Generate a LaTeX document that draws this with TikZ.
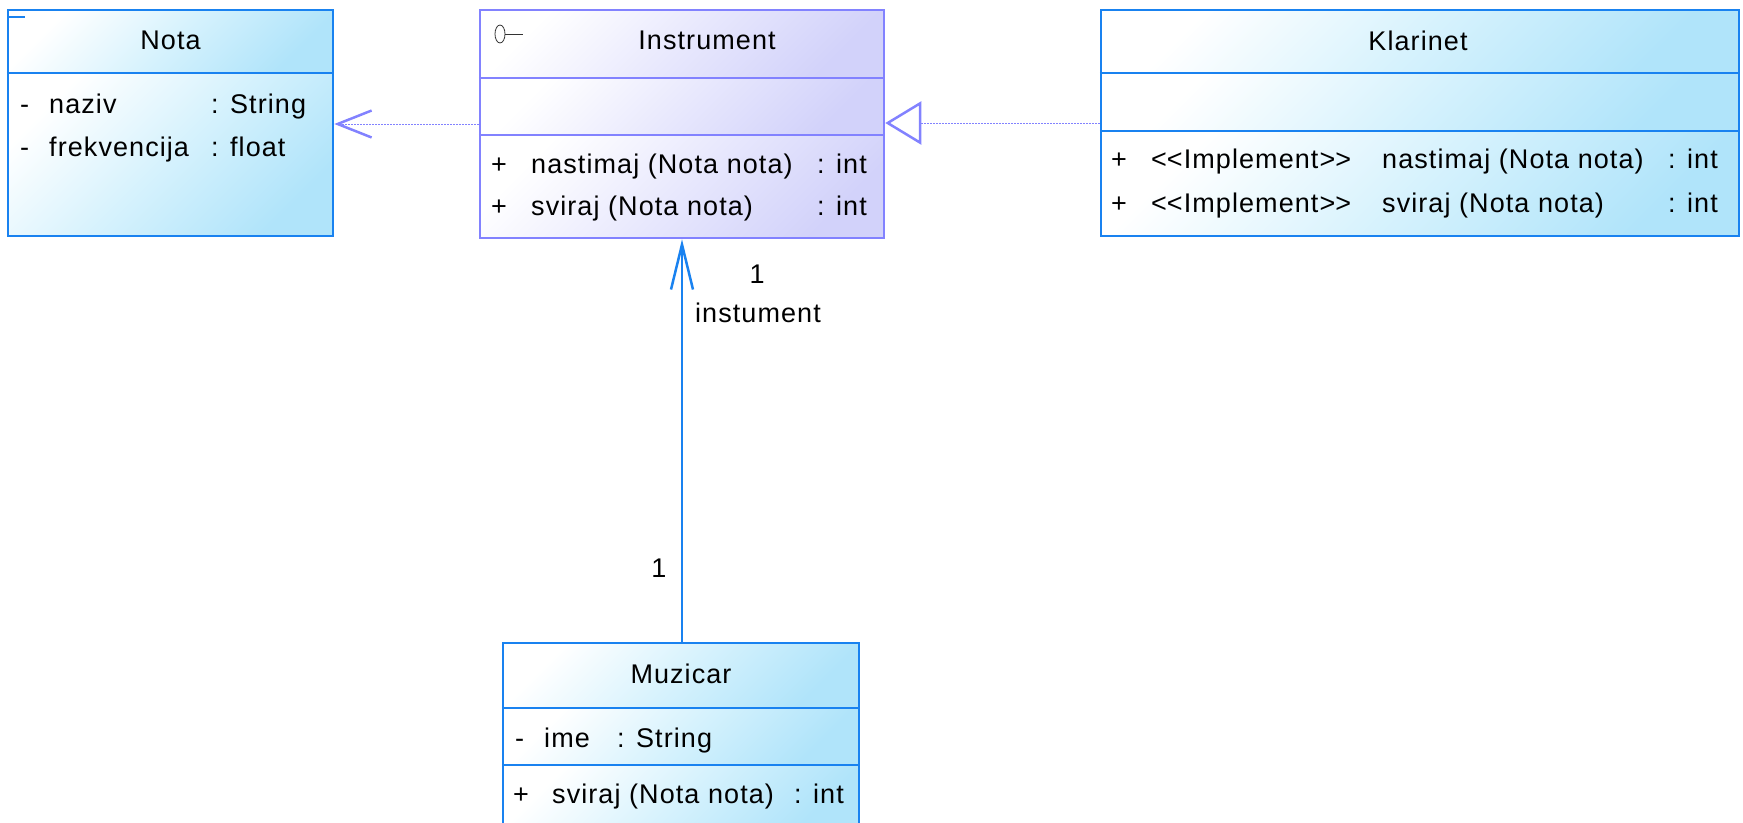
\documentclass[tikz,border=0pt]{standalone}
\usepackage{fontspec}
\setmainfont{Liberation Sans}[LetterSpace=4]
\usetikzlibrary{arrows.meta}

\definecolor{classblue}{RGB}{25,130,240}
\definecolor{cyanend}{RGB}{176,228,250}
\definecolor{cyanmid}{RGB}{214,242,253}
\definecolor{ifaceline}{RGB}{130,130,255}
\definecolor{lavend}{RGB}{210,210,250}
\definecolor{lavmid}{RGB}{232,232,253}

% guillemet-free stereotype brackets
\newcommand\stereo[1]{<\kern0pt<#1>\kern0pt>}

\begin{document}
\begin{tikzpicture}[x=1pt,y=-1pt,
  txt/.style={font=\fontsize{27}{32}\selectfont, inner sep=0pt, text=black},
  lbl/.style={txt, anchor=base west},
  ttl/.style={txt, anchor=base},
  bluefill/.style={top color=white, bottom color=cyanend, middle color=cyanmid, shading angle=45},
  lavfill/.style={top color=white, bottom color=lavend, middle color=lavmid, shading angle=45},
  blueedge/.style={draw=classblue, line width=2.5pt},
  lavedge/.style={draw=ifaceline, line width=2.5pt},
  classframe/.style={rectangle, inner sep=0pt, fill=none},
  depline/.style={draw=ifaceline, line width=0.8pt, dash pattern=on 2pt off 1pt},
  assocline/.style={draw=classblue, line width=2.5pt},
]
\useasboundingbox (0,0) rectangle (1743,822);
\clip (0,0) rectangle (1743,822);

% ---------- Nota ----------
\shade[bluefill] (8,10) rectangle (333,73);
\shade[bluefill] (8,73) rectangle (333,236);
\node[classframe, blueedge, minimum width=325pt, minimum height=226pt] (nota) at (170.5,123) {};
\draw[blueedge] (nota.west |- 0,73) -- (nota.east |- 0,73);
\draw[blueedge] (8,17) -- (25,17);
\node[ttl] (notaT) at (170.5,49) {Nota};
\node[lbl] (notaA1v) at (20,113) {-};
\node[lbl] (notaA1n) at (49,113) {naziv};
\node[lbl] (notaA1t) at (211,113) {: String};
\node[lbl] (notaA2v) at (20,156) {-};
\node[lbl] (notaA2n) at (49,156) {frekvencija};
\node[lbl] (notaA2t) at (211,156) {: float};

% ---------- Instrument (interface) ----------
\shade[lavfill] (480,10) rectangle (884,78);
\shade[lavfill] (480,78) rectangle (884,135);
\shade[lavfill] (480,135) rectangle (884,238);
\node[classframe, lavedge, minimum width=404pt, minimum height=228pt] (instrument) at (682,124) {};
\draw[lavedge] (instrument.west |- 0,78) -- (instrument.east |- 0,78);
\draw[lavedge] (instrument.west |- 0,135) -- (instrument.east |- 0,135);
\draw[line width=0.8pt, black!80] (500,34) ellipse (5pt and 9pt);
\draw[line width=0.8pt, black!80] (505,34) -- (523,34);
\node[ttl] (instrT) at (707,49) {Instrument};
\node[lbl] (instrM1v) at (491,173) {+};
\node[lbl] (instrM1n) at (531,173) {nastimaj (Nota nota)};
\node[lbl] (instrM1t) at (817,173) {: int};
\node[lbl] (instrM2v) at (491,215) {+};
\node[lbl] (instrM2n) at (531,215) {sviraj (Nota nota)};
\node[lbl] (instrM2t) at (817,215) {: int};

% ---------- Klarinet ----------
\shade[bluefill] (1101,10) rectangle (1739,73);
\shade[bluefill] (1101,73) rectangle (1739,131);
\shade[bluefill] (1101,131) rectangle (1739,236);
\node[classframe, blueedge, minimum width=638pt, minimum height=226pt] (klarinet) at (1420,123) {};
\draw[blueedge] (klarinet.west |- 0,73) -- (klarinet.east |- 0,73);
\draw[blueedge] (klarinet.west |- 0,131) -- (klarinet.east |- 0,131);
\node[ttl] (klarT) at (1418,50) {Klarinet};
\node[lbl] (klarM1v) at (1111,168) {+};
\node[lbl] (klarM1s) at (1151,168) {\stereo{Implement}};
\node[lbl] (klarM1n) at (1382,168) {nastimaj (Nota nota)};
\node[lbl] (klarM1t) at (1668,168) {: int};
\node[lbl] (klarM2v) at (1111,212) {+};
\node[lbl] (klarM2s) at (1151,212) {\stereo{Implement}};
\node[lbl] (klarM2n) at (1382,212) {sviraj (Nota nota)};
\node[lbl] (klarM2t) at (1668,212) {: int};

% ---------- Muzicar ----------
\shade[bluefill] (503,643) rectangle (859,708);
\shade[bluefill] (503,708) rectangle (859,765);
\shade[bluefill] (503,765) rectangle (859,830);
\node[classframe, blueedge, minimum width=356pt, minimum height=187pt] (muzicar) at (681,736.5) {};
\draw[blueedge] (muzicar.west |- 0,708) -- (muzicar.east |- 0,708);
\draw[blueedge] (muzicar.west |- 0,765) -- (muzicar.east |- 0,765);
\node[ttl] (muzT) at (681,683) {Muzicar};
\node[lbl] (muzA1v) at (515,747) {-};
\node[lbl] (muzA1n) at (544,747) {ime};
\node[lbl] (muzA1t) at (617,747) {: String};
\node[lbl] (muzM1v) at (513,803) {+};
\node[lbl] (muzM1n) at (552,803) {sviraj (Nota nota)};
\node[lbl] (muzM1t) at (794,803) {: int};

% ---------- relations ----------
% dependency: Instrument uses Nota
\draw[depline, -{Straight Barb[length=34pt,width=27pt,line width=2.5pt]}]
  (instrument.west) -- (instrument.west -| nota.east);
% realization: Klarinet implements Instrument
\draw[depline, -{Triangle[length=36pt,width=43pt,line width=2.5pt,fill=white]}]
  (klarinet.west) -- (klarinet.west -| instrument.east);
% navigable association Muzicar -> Instrument
\draw[assocline, -{Straight Barb[length=45pt,width=22pt,line width=2.5pt]}]
  (muzicar.north -| 682,0) -- (instrument.south -| 682,0);
\node[ttl] (multTop) at (757,283) {1};
\node[ttl] (roleTop) at (758,322) {instument};
\node[ttl] (multBot) at (659,577) {1};
\end{tikzpicture}
\end{document}
